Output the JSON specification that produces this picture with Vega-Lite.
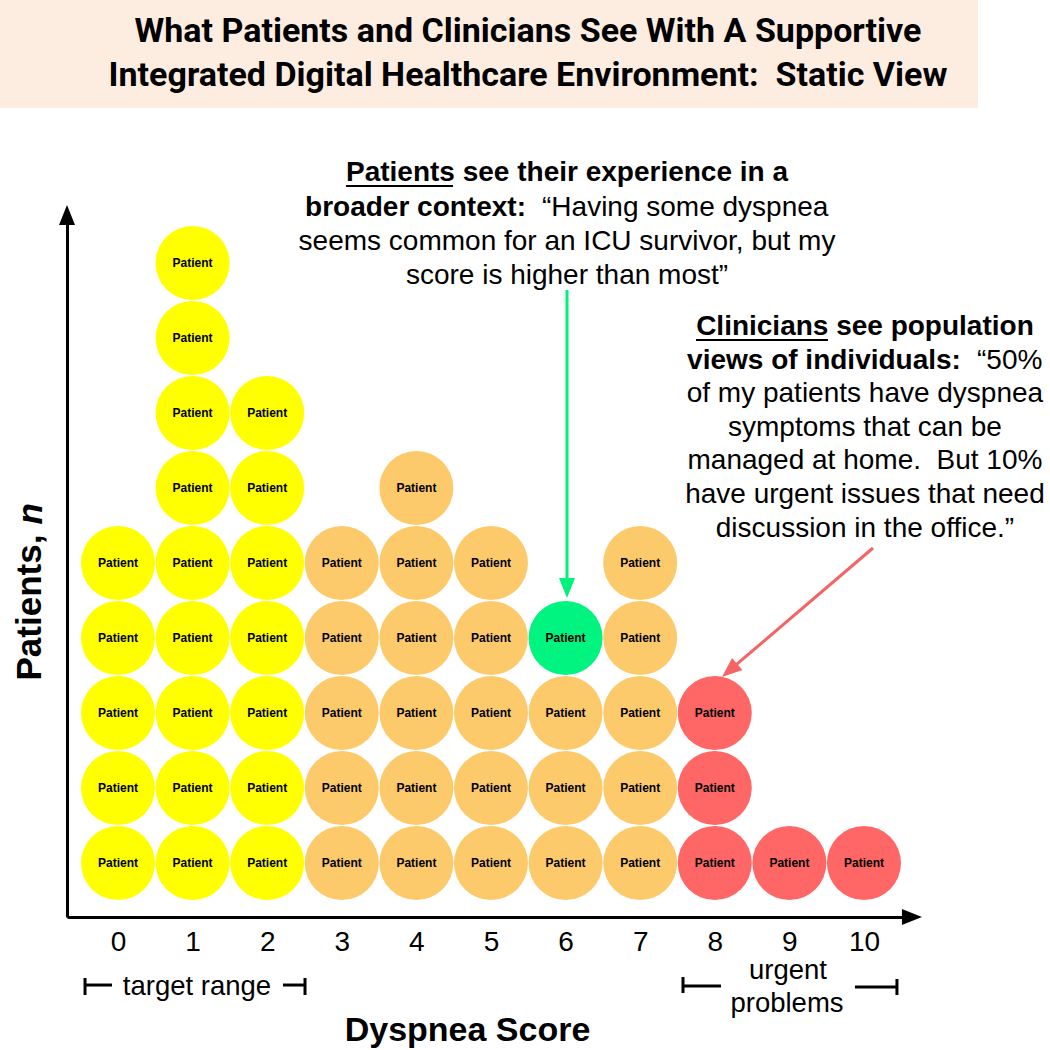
{
  "$schema": "https://vega.github.io/schema/vega-lite/v6.json",
  "width": 843,
  "height": 702,
  "autosize": {"type": "none"},
  "padding": {"left": 67, "top": 215, "right": 140, "bottom": 133},
  "background": "white",
  "config": {"view": {"stroke": null}, "font": "Liberation Sans", "axis": {"grid": false}},
  "datasets": {
    "circles": [
      {"score": 0, "n": 1, "group": "low"}, {"score": 0, "n": 2, "group": "low"}, {"score": 0, "n": 3, "group": "low"}, {"score": 0, "n": 4, "group": "low"}, {"score": 0, "n": 5, "group": "low"},
      {"score": 1, "n": 1, "group": "low"}, {"score": 1, "n": 2, "group": "low"}, {"score": 1, "n": 3, "group": "low"}, {"score": 1, "n": 4, "group": "low"}, {"score": 1, "n": 5, "group": "low"}, {"score": 1, "n": 6, "group": "low"}, {"score": 1, "n": 7, "group": "low"}, {"score": 1, "n": 8, "group": "low"}, {"score": 1, "n": 9, "group": "low"},
      {"score": 2, "n": 1, "group": "low"}, {"score": 2, "n": 2, "group": "low"}, {"score": 2, "n": 3, "group": "low"}, {"score": 2, "n": 4, "group": "low"}, {"score": 2, "n": 5, "group": "low"}, {"score": 2, "n": 6, "group": "low"}, {"score": 2, "n": 7, "group": "low"},
      {"score": 3, "n": 1, "group": "mid"}, {"score": 3, "n": 2, "group": "mid"}, {"score": 3, "n": 3, "group": "mid"}, {"score": 3, "n": 4, "group": "mid"}, {"score": 3, "n": 5, "group": "mid"},
      {"score": 4, "n": 1, "group": "mid"}, {"score": 4, "n": 2, "group": "mid"}, {"score": 4, "n": 3, "group": "mid"}, {"score": 4, "n": 4, "group": "mid"}, {"score": 4, "n": 5, "group": "mid"}, {"score": 4, "n": 6, "group": "mid"},
      {"score": 5, "n": 1, "group": "mid"}, {"score": 5, "n": 2, "group": "mid"}, {"score": 5, "n": 3, "group": "mid"}, {"score": 5, "n": 4, "group": "mid"}, {"score": 5, "n": 5, "group": "mid"},
      {"score": 6, "n": 1, "group": "mid"}, {"score": 6, "n": 2, "group": "mid"}, {"score": 6, "n": 3, "group": "mid"}, {"score": 6, "n": 4, "group": "self"},
      {"score": 7, "n": 1, "group": "mid"}, {"score": 7, "n": 2, "group": "mid"}, {"score": 7, "n": 3, "group": "mid"}, {"score": 7, "n": 4, "group": "mid"}, {"score": 7, "n": 5, "group": "mid"},
      {"score": 8, "n": 1, "group": "high"}, {"score": 8, "n": 2, "group": "high"}, {"score": 8, "n": 3, "group": "high"},
      {"score": 9, "n": 1, "group": "high"},
      {"score": 10, "n": 1, "group": "high"}
    ],
    "titleLines": [
      {"score": 5.496, "n": 12.08, "text": "What Patients and Clinicians See With A Supportive"},
      {"score": 5.496, "n": 11.493, "text": "Integrated Digital Healthcare Environment:\u00a0 Static View"}
    ],
    "boldCenter": [
      {"score": 6.019, "n": 10.2, "text": "Patients see their experience in a"},
      {"score": 10.013, "n": 8.147, "text": "Clinicians see population"}
    ],
    "boldRight": [
      {"score": 5.469, "n": 9.733, "text": "broader context:"},
      {"score": 11.3, "n": 7.699, "text": "views of individuals:"}
    ],
    "regLeft": [
      {"score": 5.684, "n": 9.733, "text": "“Having some dyspnea"},
      {"score": 11.515, "n": 7.699, "text": "“50%"}
    ],
    "regCenter": [
      {"score": 6.019, "n": 9.28, "text": "seems common for an ICU survivor, but my"},
      {"score": 6.019, "n": 8.827, "text": "score is higher than most”"},
      {"score": 10.013, "n": 7.251, "text": "of my patients have dyspnea"},
      {"score": 10.013, "n": 6.803, "text": "symptoms that can be"},
      {"score": 10.013, "n": 6.355, "text": "managed at home.\u00a0 But 10%"},
      {"score": 10.013, "n": 5.907, "text": "have urgent issues that need"},
      {"score": 10.013, "n": 5.459, "text": "discussion in the office.”"}
    ],
    "underlines": [
      {"score": 3.056, "score2": 4.491, "n": 10.027},
      {"score": 7.748, "score2": 9.517, "n": 7.973}
    ],
    "rangeLabels": [
      {"score": 1.059, "n": -0.653, "text": "target range"},
      {"score": 8.981, "n": -0.44, "text": "urgent"},
      {"score": 8.968, "n": -0.875, "text": "problems"}
    ],
    "brackets": [
      {"score": -0.442, "score2": -0.442, "n": -0.533, "n2": -0.76},
      {"score": -0.442, "score2": -0.08, "n": -0.627, "n2": -0.627},
      {"score": 2.212, "score2": 2.507, "n": -0.627, "n2": -0.627},
      {"score": 2.507, "score2": 2.507, "n": -0.533, "n2": -0.76},
      {"score": 7.574, "score2": 7.574, "n": -0.52, "n2": -0.733},
      {"score": 7.574, "score2": 8.083, "n": -0.64, "n2": -0.64},
      {"score": 9.879, "score2": 10.442, "n": -0.653, "n2": -0.653},
      {"score": 10.442, "score2": 10.442, "n": -0.547, "n2": -0.76}
    ],
    "italicN": [
      {"score": -1.019, "n": 5.515, "text": "n"}
    ],
    "one": [{}]
  },
  "layer": [
    {
      "data": {"name": "one"},
      "mark": {"type": "rect", "color": "#FDEDE0"},
      "encoding": {
        "x": {"datum": -1.582, "type": "quantitative"},
        "x2": {"datum": 11.528},
        "y": {"datum": 12.507, "type": "quantitative"},
        "y2": {"datum": 11.067}
      }
    },
    {
      "data": {"name": "circles"},
      "mark": {"type": "point", "filled": true, "shape": "circle", "size": 5476, "opacity": 1, "strokeWidth": 0},
      "encoding": {
        "x": {
          "field": "score", "type": "quantitative",
          "scale": {"domain": [-0.6836, 10.617], "zero": false, "nice": false},
          "axis": {
            "title": "Dyspnea Score", "values": [0, 1, 2, 3, 4, 5, 6, 7, 8, 9, 10], "format": "d",
            "grid": false, "ticks": false, "tickSize": 0, "domain": true, "domainColor": "black", "domainWidth": 3,
            "labelFontSize": 28, "labelColor": "black", "labelFont": "Liberation Sans", "labelPadding": 11,
            "labelFlush": false, "labelOverlap": false,
            "titleFont": "Liberation Sans", "titleFontSize": 34, "titleFontWeight": "bold", "titleColor": "black",
            "titleX": 400, "titleY": 123, "titleBaseline": "alphabetic", "titleAlign": "center"
          }
        },
        "y": {
          "field": "n", "type": "quantitative",
          "scale": {"domain": [0.28, 9.64], "zero": false, "nice": false},
          "axis": {
            "title": "Patients, ", "domain": true, "domainColor": "black", "domainWidth": 3,
            "labels": false, "ticks": false, "tickSize": 0, "grid": false,
            "titleFont": "Liberation Sans", "titleFontSize": 35, "titleFontWeight": "bold", "titleColor": "black",
            "titleAngle": 270, "titleX": -27, "titleY": 465, "titleAlign": "left", "titleBaseline": "alphabetic"
          }
        },
        "color": {
          "field": "group", "type": "nominal",
          "scale": {"domain": ["low", "mid", "self", "high"], "range": ["#FFFF00", "#FDCA6B", "#00F47F", "#FF6666"]},
          "legend": null
        }
      }
    },
    {
      "data": {"name": "circles"},
      "mark": {"type": "text", "text": "Patient", "font": "Liberation Sans", "fontSize": 12, "fontWeight": "bold", "color": "black", "baseline": "middle", "align": "center"},
      "encoding": {
        "x": {"field": "score", "type": "quantitative"},
        "y": {"field": "n", "type": "quantitative"}
      }
    },
    {
      "data": {"name": "titleLines"},
      "mark": {"type": "text", "font": "Roboto", "fontSize": 34, "fontWeight": "bold", "color": "black", "baseline": "middle", "align": "center"},
      "encoding": {
        "x": {"field": "score", "type": "quantitative"},
        "y": {"field": "n", "type": "quantitative"},
        "text": {"field": "text"}
      }
    },
    {
      "data": {"name": "boldCenter"},
      "mark": {"type": "text", "font": "Liberation Sans", "fontSize": 28, "fontWeight": "bold", "color": "black", "baseline": "middle", "align": "center"},
      "encoding": {
        "x": {"field": "score", "type": "quantitative"},
        "y": {"field": "n", "type": "quantitative"},
        "text": {"field": "text"}
      }
    },
    {
      "data": {"name": "boldRight"},
      "mark": {"type": "text", "font": "Liberation Sans", "fontSize": 28, "fontWeight": "bold", "color": "black", "baseline": "middle", "align": "right"},
      "encoding": {
        "x": {"field": "score", "type": "quantitative"},
        "y": {"field": "n", "type": "quantitative"},
        "text": {"field": "text"}
      }
    },
    {
      "data": {"name": "regLeft"},
      "mark": {"type": "text", "font": "Liberation Sans", "fontSize": 28, "color": "black", "baseline": "middle", "align": "left"},
      "encoding": {
        "x": {"field": "score", "type": "quantitative"},
        "y": {"field": "n", "type": "quantitative"},
        "text": {"field": "text"}
      }
    },
    {
      "data": {"name": "regCenter"},
      "mark": {"type": "text", "font": "Liberation Sans", "fontSize": 28, "color": "black", "baseline": "middle", "align": "center"},
      "encoding": {
        "x": {"field": "score", "type": "quantitative"},
        "y": {"field": "n", "type": "quantitative"},
        "text": {"field": "text"}
      }
    },
    {
      "data": {"name": "underlines"},
      "mark": {"type": "rule", "color": "black", "strokeWidth": 2},
      "encoding": {
        "x": {"field": "score", "type": "quantitative"},
        "x2": {"field": "score2"},
        "y": {"field": "n", "type": "quantitative"}
      }
    },
    {
      "data": {"name": "rangeLabels"},
      "mark": {"type": "text", "font": "Liberation Sans", "fontSize": 27.5, "color": "black", "baseline": "middle", "align": "center"},
      "encoding": {
        "x": {"field": "score", "type": "quantitative"},
        "y": {"field": "n", "type": "quantitative"},
        "text": {"field": "text"}
      }
    },
    {
      "data": {"name": "brackets"},
      "mark": {"type": "rule", "color": "black", "strokeWidth": 3},
      "encoding": {
        "x": {"field": "score", "type": "quantitative"},
        "x2": {"field": "score2"},
        "y": {"field": "n", "type": "quantitative"},
        "y2": {"field": "n2"}
      }
    },
    {
      "data": {"name": "italicN"},
      "mark": {"type": "text", "font": "Liberation Sans", "fontSize": 35, "fontWeight": "bold", "fontStyle": "italic", "color": "black", "baseline": "alphabetic", "align": "left", "angle": 270},
      "encoding": {
        "x": {"field": "score", "type": "quantitative"},
        "y": {"field": "n", "type": "quantitative"},
        "text": {"field": "text"}
      }
    },
    {
      "data": {"name": "one"},
      "mark": {"type": "rule", "color": "#00F27A", "strokeWidth": 3},
      "encoding": {
        "x": {"datum": 6.019, "type": "quantitative"},
        "y": {"datum": 8.64, "type": "quantitative"},
        "y2": {"datum": 4.7}
      }
    },
    {
      "data": {"name": "one"},
      "mark": {"type": "rule", "color": "#F56464", "strokeWidth": 3},
      "encoding": {
        "x": {"datum": 10.121, "type": "quantitative"},
        "x2": {"datum": 8.198},
        "y": {"datum": 5.2, "type": "quantitative"},
        "y2": {"datum": 3.567}
      }
    },
    {
      "data": {"name": "one"},
      "mark": {"type": "point", "shape": "M0,0L0.8,2L-0.8,2Z", "filled": true, "color": "#00F27A", "size": 400, "angle": 180, "opacity": 1, "strokeWidth": 0},
      "encoding": {
        "x": {"datum": 6.019, "type": "quantitative"},
        "y": {"datum": 4.533, "type": "quantitative"}
      }
    },
    {
      "data": {"name": "one"},
      "mark": {"type": "point", "shape": "M0,0L0.8,2L-0.8,2Z", "filled": true, "color": "#F56464", "size": 400, "angle": 229.5, "opacity": 1, "strokeWidth": 0},
      "encoding": {
        "x": {"datum": 8.097, "type": "quantitative"},
        "y": {"datum": 3.48, "type": "quantitative"}
      }
    },
    {
      "data": {"name": "one"},
      "mark": {"type": "point", "shape": "M0,0L0.8,2L-0.8,2Z", "filled": true, "color": "black", "size": 400, "angle": 0, "opacity": 1, "strokeWidth": 0},
      "encoding": {
        "x": {"datum": -0.6836, "type": "quantitative"},
        "y": {"datum": 9.773, "type": "quantitative"}
      }
    },
    {
      "data": {"name": "one"},
      "mark": {"type": "point", "shape": "M0,0L0.8,2L-0.8,2Z", "filled": true, "color": "black", "size": 400, "angle": 90, "opacity": 1, "strokeWidth": 0},
      "encoding": {
        "x": {"datum": 10.777, "type": "quantitative"},
        "y": {"datum": 0.28, "type": "quantitative"}
      }
    }
  ]
}
